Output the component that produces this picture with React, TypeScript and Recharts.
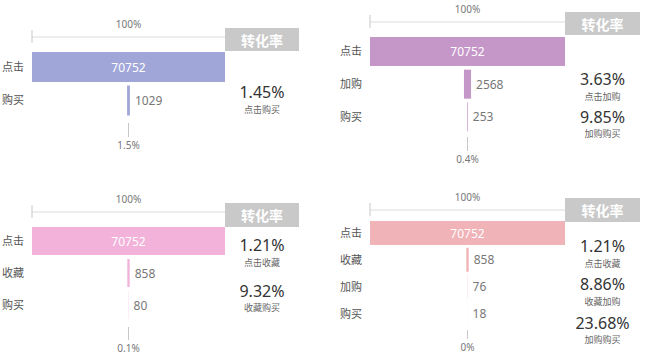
import React from 'react';
import { BarChart, Bar, XAxis, YAxis, LabelList } from 'recharts';

// funnel 1
const stages1 = ['点击', '购买'];
const values1 = [70752, 1029];
const rates1 = ['1.45%'];
const rateNames1 = ['点击购买'];
const bottom1 = '1.5%';

// funnel 2
const stages2 = ['点击', '加购', '购买'];
const values2 = [70752, 2568, 253];
const rates2 = ['3.63%', '9.85%'];
const rateNames2 = ['点击加购', '加购购买'];
const bottom2 = '0.4%';

// funnel 3
const stages3 = ['点击', '收藏', '购买'];
const values3 = [70752, 858, 80];
const rates3 = ['1.21%', '9.32%'];
const rateNames3 = ['点击收藏', '收藏购买'];
const bottom3 = '0.1%';

// funnel 4
const stages4 = ['点击', '收藏', '加购', '购买'];
const values4 = [70752, 858, 76, 18];
const rates4 = ['1.21%', '8.86%', '23.68%'];
const rateNames4 = ['点击收藏', '收藏加购', '加购购买'];
const bottom4 = '0%';

const topLabel = '100%';
const header = '转化率';

const funnels = [
  { stages: stages1, values: values1, rates: rates1, names: rateNames1, bottom: bottom1, color: '#a1a6d9' },
  { stages: stages2, values: values2, rates: rates2, names: rateNames2, bottom: bottom2, color: '#c596c8' },
  { stages: stages3, values: values3, rates: rates3, names: rateNames3, bottom: bottom3, color: '#f2b2da' },
  { stages: stages4, values: values4, rates: rates4, names: rateNames4, bottom: bottom4, color: '#f0b3b8' },
];

const layouts = [
  { x: 0, y: 0, w: 240, h: 160, mr: 15, yw: 32, topH: 37, botH: 40, padTop: 13, padBottom: 3, barSize: 30, textDy: 26,
    boxX: 225, boxY: 28, boxW: 74, boxH: 23, rateY: [92], nameY: [110] },
  { x: 325, y: 0, w: 240, h: 174, mr: 0, yw: 45, topH: 22, botH: 40, padTop: 13, padBottom: 1, barSize: 29, textDy: 26,
    boxX: 565, boxY: 12, boxW: 75, boxH: 23, rateY: [79, 117], nameY: [97, 134] },
  { x: 0, y: 180, w: 240, h: 180, mr: 15, yw: 32, topH: 32, botH: 36, padTop: 13, padBottom: 3, barSize: 28, textDy: 25,
    boxX: 225, boxY: 203, boxW: 74, boxH: 24, rateY: [245, 291], nameY: [263, 308] },
  { x: 325, y: 180, w: 240, h: 180, mr: 0, yw: 45, topH: 30, botH: 33, padTop: 10, padBottom: 0, barSize: 24, textDy: 21,
    boxX: 565, boxY: 198, boxW: 75, boxH: 24, rateY: [246, 284, 323], nameY: [264, 302, 340] },
];

function TopTick(props: any) {
  const { x, y, payload } = props;
  if (payload.value === 0) {
    return <line x1={x} x2={x} y1={y - 7} y2={y + 6} stroke="#c8c8c8" />;
  }
  return (
    <text x={x} y={y - 12} textAnchor="middle" dominantBaseline="middle" fontSize={10} fill="#777">
      {topLabel}
    </text>
  );
}

function BottomTick(props: any) {
  const { x, y, label, dy } = props;
  return (
    <g>
      <line x1={x} x2={x} y1={y + 3} y2={y + dy - 9} stroke="#c8c8c8" />
      <text x={x} y={y + dy} textAnchor="middle" dominantBaseline="middle" fontSize={10} fill="#777">
        {label}
      </text>
    </g>
  );
}

function ValueLabel(props: any) {
  const { x, y, width, height, value } = props;
  if (width > 40) {
    return (
      <text x={x + width / 2} y={y + height / 2} textAnchor="middle" dominantBaseline="central" fontSize={12} fill="#fff">
        {value}
      </text>
    );
  }
  return (
    <text x={x + width + 5} y={y + height / 2} textAnchor="start" dominantBaseline="central" fontSize={12} fill="#777">
      {value}
    </text>
  );
}

function Funnel({ d, g }: { d: (typeof funnels)[number]; g: (typeof layouts)[number] }) {
  const max = Math.max(...d.values);
  const rows = d.stages.map((s, i) => ({ stage: s, pad: (max - d.values[i]) / 2, value: d.values[i] }));
  return (
    <>
      <div style={{ position: 'absolute', left: g.x, top: g.y }}>
        <BarChart width={g.w} height={g.h} data={rows} layout="vertical" margin={{ top: 0, right: g.mr, bottom: 0, left: 0 }}>
          <XAxis xAxisId="top" orientation="top" type="number" domain={[0, max]} allowDataOverflow ticks={[0, max / 2]} interval={0}
            height={g.topH} tickSize={0} tickMargin={0} tickLine={false} axisLine={{ stroke: '#dcdcdc' }} tick={<TopTick />} />
          <XAxis xAxisId="bot" orientation="bottom" type="number" domain={[0, max]} allowDataOverflow ticks={[max / 2]} interval={0}
            height={g.botH} tickSize={0} tickMargin={0} tickLine={false} axisLine={false}
            tick={<BottomTick label={d.bottom} dy={g.textDy} />} />
          <YAxis type="category" dataKey="stage" width={g.yw} tickLine={false} axisLine={false} tickSize={0} tickMargin={8}
            padding={{ top: g.padTop, bottom: g.padBottom }} tick={{ fontSize: 11, fill: '#555' }} />
          <Bar xAxisId="top" dataKey="pad" stackId="f" fill="transparent" barSize={g.barSize} isAnimationActive={false} />
          <Bar xAxisId="top" dataKey="value" stackId="f" fill={d.color} barSize={g.barSize} isAnimationActive={false}>
            <LabelList dataKey="value" content={ValueLabel} />
          </Bar>
        </BarChart>
      </div>
      <div style={{ position: 'absolute', left: g.boxX, top: g.boxY, width: g.boxW, height: g.boxH, background: '#c9c9c9',
        color: '#fff', fontWeight: 700, fontSize: 14, display: 'flex', alignItems: 'center', justifyContent: 'center' }}>
        {header}
      </div>
      {d.rates.map((r, i) => (
        <React.Fragment key={r + i}>
          <div style={{ position: 'absolute', left: g.boxX, width: g.boxW, top: g.rateY[i], transform: 'translateY(-50%)',
            textAlign: 'center', fontSize: 16, lineHeight: '18px', color: '#333' }}>{r}</div>
          <div style={{ position: 'absolute', left: g.boxX, width: g.boxW, top: g.nameY[i], transform: 'translateY(-50%)',
            textAlign: 'center', fontSize: 9, lineHeight: '10px', color: '#666' }}>{d.names[i]}</div>
        </React.Fragment>
      ))}
    </>
  );
}

export default function App() {
  return (
    <div style={{ position: 'absolute', left: 0, top: 0, width: 650, height: 361, background: '#fff', overflow: 'hidden',
      fontFamily: '"Noto Sans", "Noto Sans CJK SC", sans-serif' }}>
      {funnels.map((d, i) => (
        <Funnel key={i} d={d} g={layouts[i]} />
      ))}
    </div>
  );
}
